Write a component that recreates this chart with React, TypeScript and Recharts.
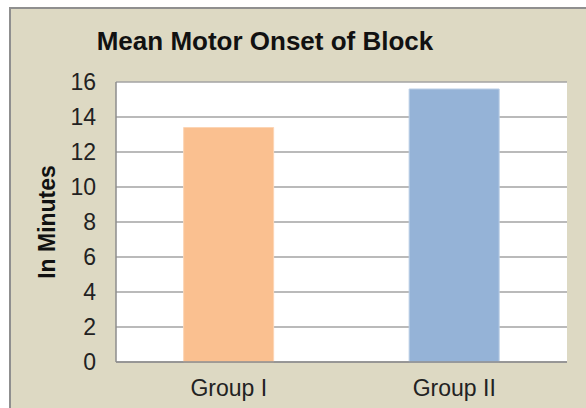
import { Bar, BarChart, CartesianGrid, Cell, Label, XAxis, YAxis } from "recharts";

const groups = ["Group I", "Group II"];
const onsetMinutes = [13.4, 15.6];
const yTicks = [0, 2, 4, 6, 8, 10, 12, 14, 16];
const barColors = ["#FAC090", "#95B3D7"];
const barEdges = ["#FCD5B5", "#B9CDE5"];

const data = groups.map((g, i) => ({ group: g, minutes: onsetMinutes[i] }));

const font = "'Liberation Sans', Arial, sans-serif";
const tickStyle = { fontSize: 23, fill: "#222", fontFamily: font };

export default function App() {
  return (
    <div style={{ position: "relative", width: 586, height: 408, overflow: "hidden", background: "#fff" }}>
      <style>{"body{margin:0}"}</style>
      {/* beige chart frame, runs off the right/bottom edge like the screenshot */}
      <div
        style={{
          position: "absolute",
          left: 9,
          top: 7,
          width: 620,
          height: 440,
          border: "2px solid #8f8f8f",
          background: "#DDD9C3",
        }}
      />
      <div
        style={{
          position: "absolute",
          left: 0,
          top: 28,
          width: 530,
          textAlign: "center",
          fontFamily: font,
          fontWeight: "bold",
          fontSize: 26,
          lineHeight: "26px",
          color: "#111",
        }}
      >
        Mean Motor Onset of Block
      </div>
      <div style={{ position: "absolute", left: 0, top: 0 }}>
        <BarChart
          width={586}
          height={408}
          data={data}
          margin={{ top: 82, right: 19, bottom: 0, left: 16 }}
          barCategoryGap="30%"
        >
          <CartesianGrid vertical={false} stroke="#a3a3a3" strokeWidth={1.5} fill="#fff" />
          <XAxis
            dataKey="group"
            height={46}
            tick={tickStyle}
            tickLine={false}
            tickSize={0}
            tickMargin={18}
            axisLine={{ stroke: "#8c8c8c", strokeWidth: 1.5 }}
          />
          <YAxis
            width={100}
            domain={[0, 16]}
            ticks={yTicks}
            interval={0}
            tick={tickStyle}
            tickLine={false}
            tickSize={0}
            tickMargin={20}
            axisLine={{ stroke: "#8c8c8c", strokeWidth: 1.5 }}
          >
            <Label
              content={({ viewBox }: any) => {
                const cx = viewBox.x + 31;
                const cy = viewBox.y + viewBox.height / 2;
                return (
                  <text
                    x={cx}
                    y={cy}
                    transform={`rotate(-90 ${cx} ${cy})`}
                    textAnchor="middle"
                    dominantBaseline="central"
                    fontFamily={font}
                    fontWeight="bold"
                    fontSize={23}
                    fill="#111"
                  >
                    In Minutes
                  </text>
                );
              }}
            />
          </YAxis>
          <Bar dataKey="minutes" isAnimationActive={false} strokeWidth={1}>
            {data.map((d, i) => (
              <Cell key={d.group} fill={barColors[i]} stroke={barEdges[i]} />
            ))}
          </Bar>
        </BarChart>
      </div>
    </div>
  );
}
